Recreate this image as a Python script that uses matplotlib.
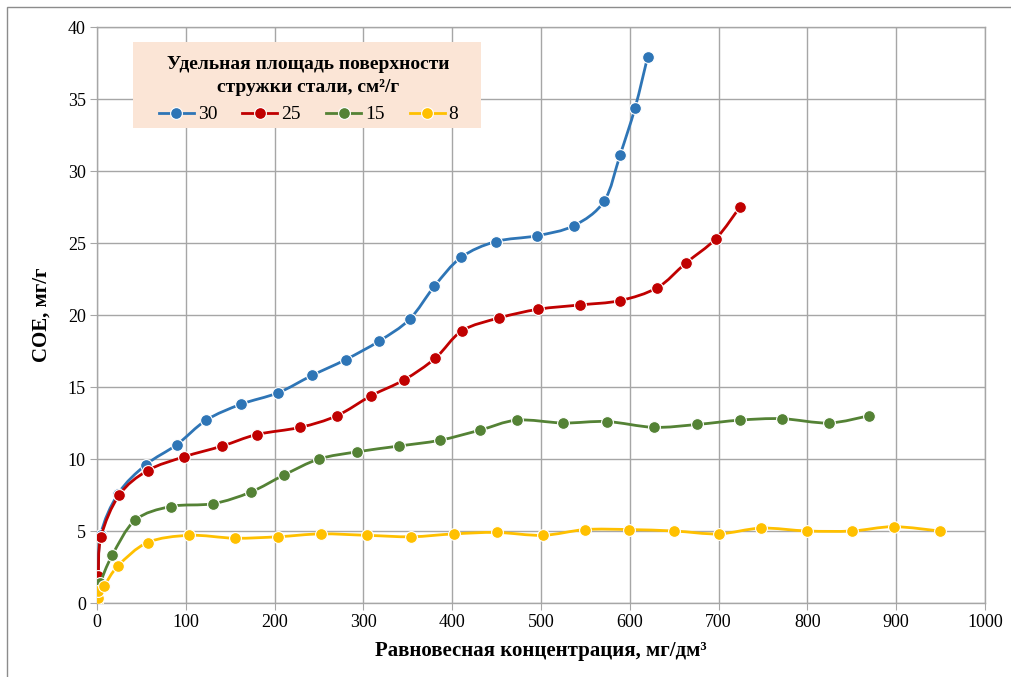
import numpy as np
import matplotlib
matplotlib.use("Agg")
import matplotlib.pyplot as plt
from matplotlib.path import Path
from matplotlib.patches import PathPatch, Rectangle
from matplotlib.lines import Line2D

plt.rcParams['font.family'] = ['Liberation Serif', 'DejaVu Serif']

# Equilibrium concentration (mg/dm3) vs static exchange capacity (mg/g)
x_30 = [1.5, 4, 24, 55, 90, 123, 162, 204, 242, 280, 318, 352, 380, 410,
        449, 495, 537, 571, 589, 606, 620]
y_30 = [1.3, 4.7, 7.6, 9.6, 11.0, 12.7, 13.8, 14.6, 15.8, 16.9, 18.2, 19.7,
        22.0, 24.0, 25.1, 25.5, 26.2, 27.9, 31.1, 34.4, 37.9]

x_25 = [1.5, 4.5, 25, 57, 98, 141, 180, 229, 270, 309, 346, 381, 411, 453,
        497, 544, 589, 631, 663, 697, 724]
y_25 = [1.9, 4.6, 7.5, 9.2, 10.15, 10.9, 11.7, 12.2, 13.0, 14.4, 15.5, 17.0,
        18.9, 19.8, 20.4, 20.7, 21.0, 21.9, 23.6, 25.3, 27.5]

x_15 = [3.5, 17, 43, 83, 131, 173, 211, 250, 293, 340, 386, 431, 473, 525,
        574, 627, 676, 724, 771, 824, 869]
y_15 = [1.4, 3.3, 5.75, 6.7, 6.9, 7.7, 8.9, 10.0, 10.5, 10.9, 11.3, 12.0,
        12.7, 12.5, 12.6, 12.2, 12.4, 12.7, 12.8, 12.5, 13.0]

x_8 = [0.5, 0.8, 1.5, 8, 24, 57, 104, 155, 204, 252, 304, 354, 402, 450, 502,
       550, 599, 650, 700, 748, 800, 850, 897, 949]
y_8 = [0.1, 0.35, 0.8, 1.2, 2.6, 4.2, 4.7, 4.5, 4.6, 4.8, 4.7, 4.6, 4.8, 4.9,
       4.7, 5.1, 5.1, 5.0, 4.8, 5.2, 5.0, 5.0, 5.3, 5.0]

series_labels = ['30', '25', '15', '8']
series_colors = ['#2E75B6', '#C00000', '#548235', '#FFC000']

x_ticks = list(range(0, 1001, 100))
y_ticks = list(range(0, 41, 5))


def smooth_path(xs, ys):
    """Catmull-Rom curve through the points, as cubic Bezier segments."""
    p = np.column_stack([xs, ys]).astype(float)
    verts = [p[0]]
    codes = [Path.MOVETO]
    n = len(p)
    for i in range(n - 1):
        p0 = p[i - 1] if i > 0 else p[i]
        p1 = p[i]
        p2 = p[i + 1]
        p3 = p[i + 2] if i + 2 < n else p[i + 1]
        c1 = p1 + (p2 - p0) / 6.0
        c2 = p2 - (p3 - p1) / 6.0
        verts += [c1, c2, p2]
        codes += [Path.CURVE4] * 3
    return Path(verts, codes)


fig = plt.figure(figsize=(10.11, 6.77), dpi=100)
ax = fig.add_axes([97 / 1011, 1 - 603 / 677, 888 / 1011, 576 / 677])

grid_c = '#a6a6a6'
data = [(x_30, y_30), (x_25, y_25), (x_15, y_15), (x_8, y_8)]
handles = []
for k, ((xs, ys), color, label) in enumerate(zip(data, series_colors, series_labels)):
    z = 3 + 2 * k
    ax.add_patch(PathPatch(smooth_path(xs, ys), fill=False, edgecolor=color,
                           lw=2.0, zorder=z, capstyle='round'))
    ax.plot(xs, ys, ls='none', marker='o', ms=8.5, mfc=color, mec='white',
            mew=0.8, zorder=z + 1)
    handles.append(Line2D([], [], color=color, lw=2.0, marker='o', ms=8.5,
                          mfc=color, mec='white', mew=0.8, label=label))

ax.set_xlim(0, 1000)
ax.set_ylim(0, 40)
ax.set_xticks(x_ticks)
ax.set_yticks(y_ticks)
ax.grid(True, color=grid_c, lw=1.0)
ax.set_axisbelow(True)
for s in ax.spines.values():
    s.set_color(grid_c)
    s.set_linewidth(1.0)
ax.tick_params(direction='out', length=5, color=grid_c, labelsize=13,
               labelcolor='black', pad=3)

ax.set_xlabel('Равновесная концентрация, мг/дм³', fontsize=15,
              fontweight='bold', labelpad=7)
ax.set_ylabel('СОЕ, мг/г', fontsize=15, fontweight='bold', labelpad=12)

# legend panel background
ax.add_patch(Rectangle((0.0405, 0.8247), 0.3919, 0.1493, transform=ax.transAxes,
                       facecolor='#FBE5D6', edgecolor='none', zorder=20))
leg = ax.legend(handles=handles, ncol=4, loc='center',
                bbox_to_anchor=(0.2382, 0.891), borderaxespad=0,
                title='Удельная площадь поверхности\nстружки стали, см²/г',
                title_fontproperties={'weight': 'bold', 'size': 14},
                fontsize=14, frameon=False,
                handlelength=1.8, handletextpad=0.2, columnspacing=1.3,
                borderpad=0)
leg.set_zorder(21)
leg.get_title().set_multialignment('center')
leg.get_title().set_linespacing(1.45)

# outer chart border
fig.patches.append(Rectangle((7 / 1011, -0.02), 1.05, 1 - 7 / 677 + 0.02,
                             transform=fig.transFigure, fill=False,
                             edgecolor='#8c8c8c', lw=1.0))

fig.savefig('out.png', dpi=100)
